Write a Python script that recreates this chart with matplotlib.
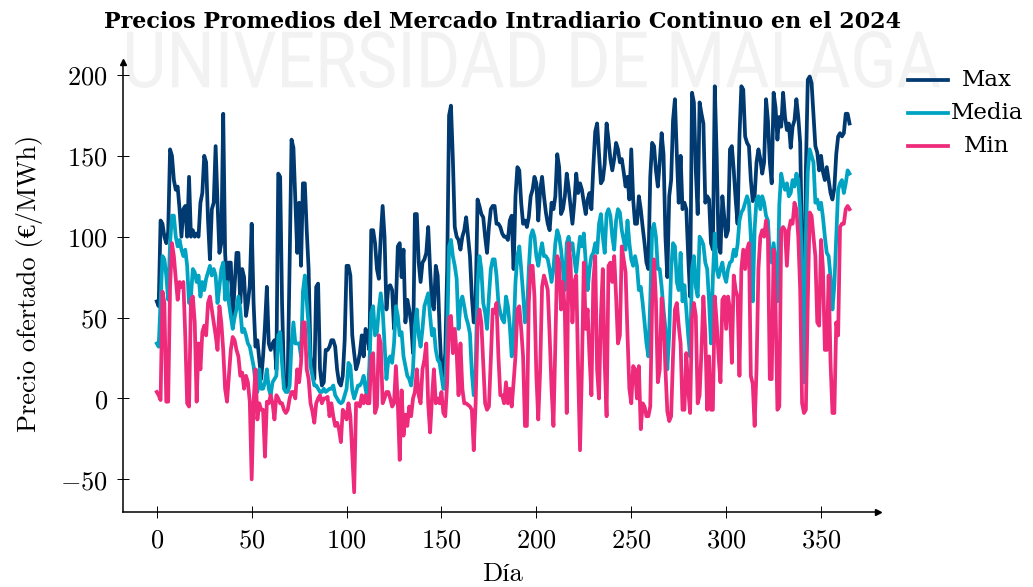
import matplotlib
matplotlib.use("Agg")
import matplotlib.pyplot as plt
from matplotlib.textpath import TextPath
from matplotlib.patches import PathPatch
from matplotlib.font_manager import FontProperties
from matplotlib.lines import Line2D
from matplotlib.transforms import Affine2D, IdentityTransform
from matplotlib.ticker import FuncFormatter

plt.rcParams['mathtext.fontset'] = 'cm'

# Precios diarios (EUR/MWh), dia 0..365
precio_max = [
    60, 57, 110, 108, 100, 96, 103, 154, 150, 135, 129, 131, 117, 100, 117, 119, 100, 137, 100, 104,
    100, 102, 100, 121, 127, 150, 146, 110, 86, 117, 121, 156, 121, 90, 96, 176, 90, 69, 84, 84, 49,
    70,
    90, 90, 59, 80, 75, 51, 59, 70, 108, 59, 32, 36, 24, 12, 26, 45, 69, 34, 30, 34,
    36, 18, 139, 137, 59, 14, 6, 14, 84, 160, 155, 123, 90, 121, 82, 133, 133, 104, 80, 26,
    16,
    12, 69, 71, 18, 8, 10, 30, 30, 32, 36, 36, 32, 18, 10, 8, 14, 36, 82, 82, 76,
    39, 28, 18, 22, 28, 39, 26, 43, 39, 30, 104, 104, 96, 80, 74, 100, 119, 100, 55, 69,
    70,
    67, 43, 59, 94, 96, 75, 92, 47, 61, 55, 47, 28, 114, 114, 84, 72, 84, 86, 90, 106,
    80, 59, 55, 82, 76, 43, 18, 14, 28, 80, 175, 181, 148, 106, 100, 98, 92, 100, 104, 112,
    100,
    88, 63, 47, 59, 123, 119, 114, 112, 100, 90, 106, 117, 119, 119, 108, 108, 106, 102, 100, 100,
    98, 110, 113, 80, 125, 143, 141, 121, 108, 110, 106, 112, 125, 129, 137, 133, 110, 129, 137, 125,
    115,
    108, 104, 121, 117, 125, 151, 143, 114, 117, 125, 139, 130, 119, 108, 121, 139, 127, 133, 129, 121,
    114, 123, 127, 117, 143, 165, 170, 151, 133, 135, 145, 170, 160, 148, 141, 148, 158, 154, 146, 148,
    140,
    131, 137, 123, 154, 123, 108, 108, 125, 117, 106, 96, 84, 80, 137, 158, 156, 141, 131, 146, 164,
    151, 100, 75, 125, 135, 172, 185, 151, 121, 150, 117, 121, 117, 88, 63, 189, 183, 141, 114, 183,
    176,
    170, 121, 125, 123, 96, 92, 193, 150, 94, 90, 125, 112, 100, 104, 154, 156, 141, 123, 108, 162,
    193, 191, 162, 158, 156,
    135, 122, 125, 146, 154, 148, 139, 146, 185, 172, 146, 133, 189, 180, 160, 174, 168, 189, 174, 166,
    170, 155, 168, 172, 185, 174, 158, 90, 18, 141, 197, 199, 195, 176, 156, 152, 141, 150, 140, 135,
    143, 135, 127, 123, 130, 151, 162, 164, 162, 164, 176, 176, 170,
]

precio_media = [
    34, 32, 60, 88, 86, 76, 61, 96, 113, 113, 100, 94, 98, 92, 88, 92, 82, 59, 63, 80,
    78, 72, 76, 63, 72, 67, 74, 78, 82, 76, 80, 76, 59, 69, 80, 84, 61, 72, 59, 51, 43,
    50,
    55, 63, 55, 41, 43, 39, 34, 32, 26, 20, 10, 4, 18, 6, 6, 10, 18, 6, 2, 10,
    12, 14, 39, 41, 22, 6, 4, 4, 8, 34, 47, 34, 34, 34, 26, 66, 76, 60, 45, 20,
    14,
    8, 8, 6, 4, 4, 6, 4, 5, 6, 6, 8, 2, 0, -2, -3, -2, 2, 6, 22, 20,
    5, 0, 4, 8, 8, 10, 14, 6, 0, 20, 53, 57, 39, 41, 55, 65, 55, 34, 12, 24,
    26,
    22, 34, 57, 51, 39, 41, 26, 20, 14, 12, 8, 18, 45, 55, 39, 32, 43, 57, 61, 65,
    51, 39, 43, 30, 24, 22, 14, 6, 6, 40, 94, 98, 88, 82, 74, 43, 59, 63, 57, 50,
    46,
    40, 16, 2, 18, 70, 88, 80, 59, 53, 43, 63, 80, 86, 86, 76, 59, 53, 49, 47, 63,
    57, 45, 26, 40, 72, 88, 94, 80, 65, 47, 51, 80, 100, 104, 100, 88, 82, 90, 96, 88,
    88,
    86, 80, 72, 80, 96, 104, 100, 92, 80, 67, 96, 100, 92, 96, 86, 78, 90, 100, 94, 102,
    84, 67, 80, 88, 90, 96, 90, 108, 114, 100, 90, 114, 117, 113, 100, 92, 110, 117, 115, 104,
    98,
    92, 110, 96, 86, 82, 88, 82, 67, 69, 59, 47, 34, 26, 60, 104, 108, 100, 80, 80, 69,
    55, 43, 18, 40, 80, 96, 94, 72, 67, 90, 60, 70, 55, 39, 26, 80, 88, 69, 63, 100,
    98,
    95, 84, 80, 60, 34, 75, 102, 80, 75, 80, 84, 76, 72, 80, 84, 85, 92, 88, 95, 110,
    115, 117, 121, 125, 121,
    100, 60, 105, 123, 125, 117, 125, 121, 113, 110, 88, 84, 96, 84, 60, 120, 139, 133, 129, 133,
    125, 127, 135, 131, 139, 135, 117, 80, 10, 100, 140, 154, 150, 146, 121, 123, 117, 121, 112, 100,
    90, 88, 75, 55, 70, 100, 129, 133, 135, 127, 133, 141, 139,
]

precio_min = [
    4, 2, -1, 66, 59, -2, -2, 69, 96, 88, 74, 61, 72, 69, 72, 39, -3, -5, 61, 63,
    47, -2, 34, 18, 41, 45, 39, 59, 63, 55, 47, 39, 30, 57, 47, 30, 6, -2, 14, 30, 38,
    36,
    30, 26, 14, 16, 6, 14, 10, -2, -50, -2, 18, -13, -3, -7, -7, -36, -2, -3, 2, -3,
    -13, 2, 0, -3, -3, -7, -9, -7, 0, 4, 4, 0, 18, 10, 22, 47, 47, 18, 12, -3,
    -8,
    -15, -3, 0, 2, -3, 0, 0, 1, -11, -3, -11, -17, -15, -19, -27, -7, -9, -13, -3, -11,
    -34, -58, -3, -3, -5, 2, -3, 2, -3, -3, 26, 28, -9, -5, 39, 34, -3, 0, 4, 4,
    0,
    -5, -3, 20, -3, -38, 5, -23, -10, -17, -5, -11, 0, 4, 18, 2, -3, 18, 24, 34, -3,
    -21, 0, 18, -3, 0, -3, 4, -9, -11, 10, 50, 51, 28, 43, 28, 2, 34, 6, -3, -3,
    -4,
    -5, -7, -32, -3, 45, 55, 47, 22, -3, -7, -5, 24, 55, 53, 59, 26, 2, 2, -3, 10,
    -3, 6, -5, 10, 26, 55, 57, 43, 26, -17, -17, 59, 82, 82, 63, 14, -13, 18, 69, 76,
    72,
    67, 39, 6, -17, 34, 88, 84, 55, 72, 53, -9, 96, 84, 47, 72, 76, 18, -32, 18, 84,
    43, 55, 26, 2, 72, 88, 18, 0, 51, 80, 22, -11, 82, 84, 72, 88, 63, 34, 39, 94,
    86,
    78, 40, 6, -3, 20, 18, 0, 20, -19, -3, -5, -11, -11, -5, 60, 86, 60, 10, 18, 62,
    50, 18, -8, -14, -11, 26, 55, 59, 45, 34, -7, -7, 28, 6, -9, 50, 59, 51, -3, 2,
    30,
    63, 40, -7, 26, -7, -7, 63, 47, 26, 10, 61, 63, 43, 63, 55, 22, 76, 67, 63, 14,
    80, 92, 80, 92, 96,
    14, 9, -17, 18, 80, 100, 104, 100, 110, 100, 12, 12, 92, 59, -7, -5, 104, 106, 104, 82,
    104, 110, 108, 121, 117, 100, 67, -3, -9, -7, 60, 115, 113, 100, 88, 47, 45, 98, 80, 30,
    30, 76, 22, -9, -9, 47, 39, 106, 108, 108, 117, 119, 117,
]

series = ['Max', 'Media', 'Min']
colores = ['#003a70', '#00a3c1', '#ee2a7b']
xticks = [0, 50, 100, 150, 200, 250, 300, 350]
yticks = [-50, 0, 50, 100, 150, 200]

W, H = 1033, 587
fig = plt.figure(figsize=(W / 100, H / 100), dpi=100)

# marca de agua
fp = FontProperties(family='Roboto', weight='normal')
tp = TextPath((0, 0), 'UNIVERSIDAD DE MALAGA', size=100, prop=fp)
ext = tp.get_extents()
tr = Affine2D().translate(-ext.x0, -ext.y0).scale(813 / ext.width, 57 / ext.height).translate(127, H - 88)
fig.add_artist(PathPatch(tr.transform_path(tp), facecolor='#f2f2f2', edgecolor='none',
                         transform=IdentityTransform(), zorder=-5))

ax = fig.add_axes([123 / W, 1 - 512 / H, (878 - 123) / W, (512 - 62) / H])
ax.patch.set_visible(False)

for datos, color in zip([precio_max, precio_media, precio_min], colores):
    ax.plot(range(len(datos)), datos, color=color, lw=2.7, solid_joinstyle='round')

ax.set_xlim(-17.8, 380)
ax.set_ylim(-70.2, 208)
ax.spines['top'].set_visible(False)
ax.spines['right'].set_visible(False)
for s in ['left', 'bottom']:
    ax.spines[s].set_linewidth(1.1)
ax.plot(1, 0, '>k', ms=5, transform=ax.transAxes, clip_on=False)
ax.plot(0, 1, '^k', ms=5, transform=ax.transAxes, clip_on=False)

ax.set_xticks(xticks)
ax.set_yticks(yticks)
fmt = FuncFormatter(lambda v, p: '$%d$' % v)
ax.xaxis.set_major_formatter(fmt)
ax.yaxis.set_major_formatter(fmt)
ax.tick_params(direction='inout', length=8, width=0.7, labelsize=19, pad=7)

lab_font = ['cmr10', 'Liberation Serif']
fig.text(30 / W, 1 - 283 / H, 'Precio ofertado (€/MWh)', rotation=90, ha='center', va='center',
         fontsize=19, family=lab_font)
fig.text(502 / W, 1 - 574 / H, 'Día', ha='center', va='center', fontsize=19, family=lab_font)

fig.text(503 / W, 1 - 22 / H, 'Precios Promedios del Mercado Intradiario Continuo en el 2024',
         ha='center', va='center', fontsize=16, fontweight='bold', family='DejaVu Serif')

# leyenda
for i, (nombre, color) in enumerate(zip(series, colores)):
    y = H - (80 + 33 * i)
    fig.add_artist(Line2D([908, 948], [y, y], color=color, lw=2.7, transform=IdentityTransform()))
    fig.text(987, y, nombre, transform=IdentityTransform(), ha='center', va='center',
             fontsize=16.5, family='DejaVu Serif')

fig.savefig('out.png', dpi=100)
